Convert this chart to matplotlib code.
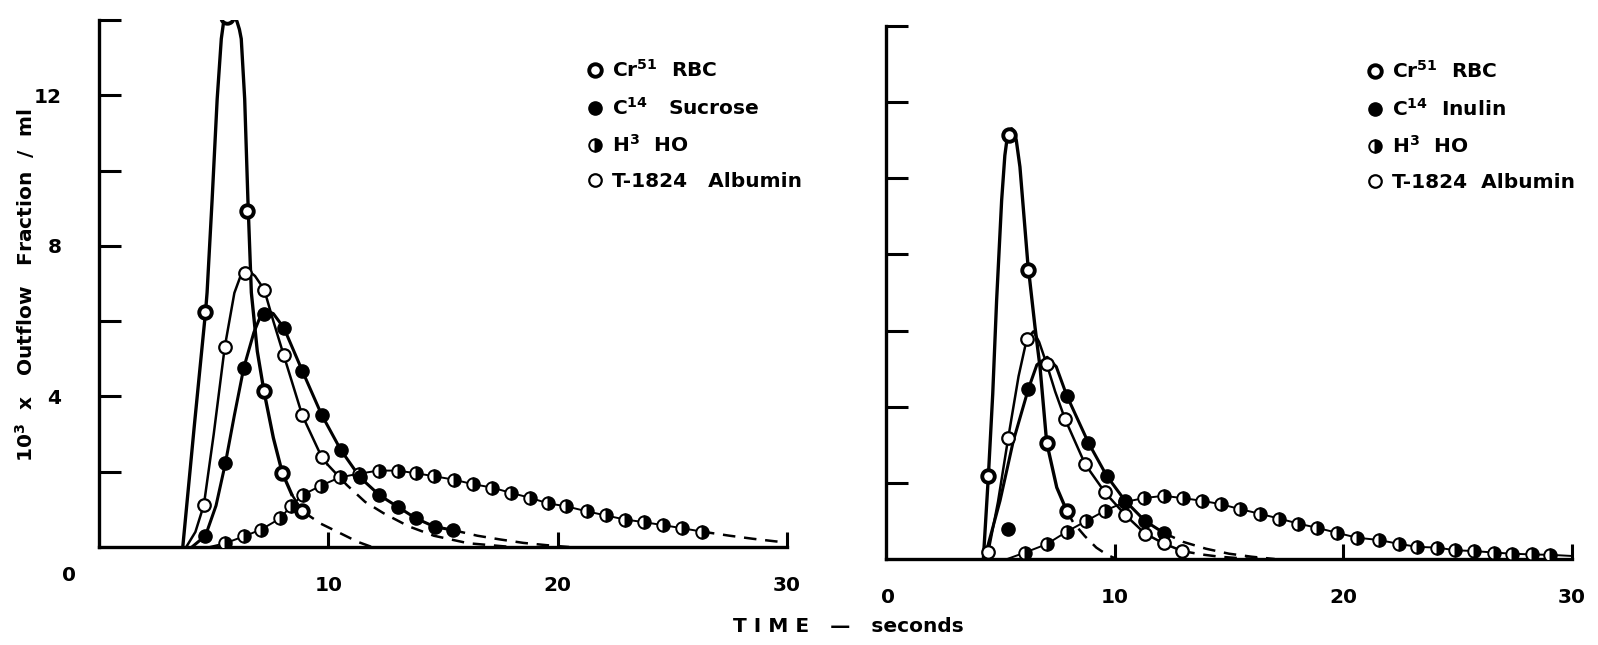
import matplotlib
matplotlib.use("Agg")
import matplotlib.pyplot as plt
from matplotlib.lines import Line2D

plt.rcParams['font.family'] = ['DejaVu Sans']
plt.rcParams['font.weight'] = 'bold'
plt.rcParams['mathtext.default'] = 'bf'

# ---- sucrose experiment (left) ----
# Cr51 RBC
suc_rbc_t = [4.64, 5.59, 6.43, 7.19, 7.99, 8.87]
suc_rbc_v = [6.23, 14.07, 8.92, 4.14, 1.97, 0.95]
suc_rbc_line_t = [3.65, 4.15, 4.64, 4.71, 4.93, 5.15, 5.33, 5.42, 5.52, 5.62, 5.72, 5.82,
                  5.92, 6.02, 6.12, 6.2, 6.35, 6.49, 6.64, 6.9, 7.19, 7.6, 7.99, 8.4]
suc_rbc_line_v = [0.0, 3.2, 6.23, 6.76, 9.23, 11.9, 13.5, 13.9, 14.1, 14.18, 14.2, 14.18,
                  14.1, 13.95, 13.75, 13.5, 11.9, 9.23, 6.76, 5.2, 4.14, 2.9, 1.97, 1.4]
suc_rbc_tail_t = [8.4, 8.87, 9.67, 10.54, 11.27, 11.9]
suc_rbc_tail_v = [1.4, 0.95, 0.62, 0.36, 0.14, 0.0]

# C14 sucrose
suc_c14_t = [4.64, 5.51, 6.31, 7.19, 8.06, 8.87, 9.7, 10.54, 11.38, 12.22, 13.02, 13.82, 14.63, 15.43]
suc_c14_v = [0.3, 2.23, 4.76, 6.18, 5.82, 4.67, 3.52, 2.58, 1.85, 1.38, 1.07, 0.76, 0.54, 0.45]
suc_c14_line_t = [4.05, 4.64, 5.1, 5.51, 5.9, 6.31, 6.75, 7.05, 7.3, 7.6, 8.06, 8.87, 9.7,
                  10.54, 11.38, 12.22, 13.02, 13.82, 14.63, 15.43]
suc_c14_line_v = [0.0, 0.3, 1.1, 2.23, 3.5, 4.76, 5.7, 6.15, 6.28, 6.2, 5.82, 4.67, 3.52,
                  2.58, 1.85, 1.38, 1.07, 0.76, 0.54, 0.45]
suc_c14_tail_t = [15.43, 16.5, 17.5, 18.5, 19.5, 20.5]
suc_c14_tail_v = [0.45, 0.3, 0.2, 0.11, 0.05, 0.0]

# H3 water
suc_h3_t = [5.5, 6.3, 7.05, 7.9, 8.35, 8.9, 9.67, 10.5, 11.34, 12.19, 13.02, 13.82, 14.62,
            15.47, 16.3, 17.14, 17.95, 18.78, 19.58, 20.38, 21.26, 22.09, 22.94, 23.77,
            24.61, 25.42, 26.29]
suc_h3_v = [0.1, 0.28, 0.46, 0.76, 1.08, 1.39, 1.63, 1.85, 1.95, 2.03, 2.03, 1.96, 1.88,
            1.79, 1.67, 1.58, 1.44, 1.31, 1.16, 1.08, 0.95, 0.84, 0.73, 0.66, 0.58, 0.5, 0.41]
suc_h3_tail_t = [26.29, 27.5, 28.5, 29.5, 30.0]
suc_h3_tail_v = [0.41, 0.3, 0.22, 0.15, 0.12]

# T-1824 albumin
suc_alb_t = [4.57, 5.48, 6.37, 7.2, 8.05, 8.86, 9.7]
suc_alb_v = [1.12, 5.31, 7.28, 6.84, 5.1, 3.5, 2.4]
suc_alb_line_t = [3.8, 4.2, 4.57, 5.0, 5.48, 5.9, 6.2, 6.5, 6.8, 7.2, 7.6, 8.05, 8.86, 9.7, 9.95]
suc_alb_line_v = [0.0, 0.4, 1.12, 3.0, 5.31, 6.75, 7.25, 7.35, 7.2, 6.84, 6.0, 5.1, 3.5, 2.4, 2.2]
suc_alb_tail_t = [9.95, 10.8, 11.6, 12.4, 13.5, 14.6, 16.1, 18.0]
suc_alb_tail_v = [2.2, 1.65, 1.2, 0.9, 0.55, 0.3, 0.1, 0.0]

# ---- inulin experiment (right) ----
inu_rbc_t = [4.48, 5.40, 6.2, 7.03, 7.91]
inu_rbc_v = [2.18, 11.13, 7.6, 3.06, 1.26]
inu_rbc_line_t = [4.26, 4.48, 4.67, 4.84, 5.06, 5.2, 5.3, 5.4, 5.5, 5.6, 5.7, 5.86, 6.2,
                  6.52, 6.74, 7.03, 7.47, 7.91]
inu_rbc_line_v = [0.0, 2.18, 4.33, 6.79, 9.42, 10.6, 11.05, 11.25, 11.3, 11.22, 11.0, 10.3,
                  7.8, 6.09, 5.03, 3.06, 1.88, 1.26]
inu_rbc_tail_t = [7.91, 8.2, 8.7, 9.2, 9.7, 10.1]
inu_rbc_tail_v = [1.26, 0.95, 0.6, 0.3, 0.1, 0.0]

inu_c14_t = [5.35, 6.23, 7.91, 8.85, 9.66, 10.46, 11.33, 12.14]
inu_c14_v = [0.78, 4.47, 4.29, 3.06, 2.18, 1.53, 1.0, 0.69]
inu_c14_line_t = [4.3, 4.99, 5.57, 6.23, 6.6, 7.05, 7.45, 7.91, 8.85, 9.66, 10.46, 11.33, 12.14]
inu_c14_line_v = [0.0, 1.53, 3.1, 4.47, 5.1, 5.3, 5.05, 4.29, 3.06, 2.18, 1.53, 1.0, 0.69]
inu_c14_tail_t = [12.14, 13.0, 14.0, 15.0, 16.0, 17.0]
inu_c14_tail_v = [0.69, 0.45, 0.27, 0.14, 0.06, 0.0]

inu_h3_t = [6.08, 7.03, 7.91, 8.76, 9.58, 10.46, 11.28, 12.14, 12.98, 13.82, 14.65, 15.49,
            16.34, 17.21, 18.04, 18.85, 19.72, 20.6, 21.55, 22.42, 23.22, 24.1, 24.9, 25.7,
            26.58, 27.38, 28.26, 29.06]
inu_h3_v = [0.17, 0.39, 0.72, 1.0, 1.27, 1.5, 1.6, 1.66, 1.6, 1.53, 1.44, 1.31, 1.19, 1.06,
            0.93, 0.82, 0.69, 0.56, 0.5, 0.4, 0.32, 0.3, 0.23, 0.21, 0.17, 0.14, 0.12, 0.11]
inu_h3_line_t = [5.3] + inu_h3_t + [30.0]
inu_h3_line_v = [0.0] + inu_h3_v + [0.08]

inu_alb_t = [4.48, 5.35, 6.16, 7.03, 7.83, 8.71, 9.58, 10.46, 11.33, 12.14, 12.96]
inu_alb_v = [0.19, 3.19, 5.78, 5.12, 3.68, 2.49, 1.75, 1.16, 0.67, 0.41, 0.21]
inu_alb_line_t = [4.35, 4.48, 4.9, 5.35, 5.8, 6.16, 6.45, 6.7, 7.03, 7.4, 7.83, 8.71, 9.58,
                  10.46, 11.33, 12.14, 12.96]
inu_alb_line_v = [0.0, 0.19, 1.5, 3.19, 4.8, 5.78, 5.98, 5.7, 5.12, 4.4, 3.68, 2.49, 1.75,
                  1.16, 0.67, 0.41, 0.21]
inu_alb_tail_t = [12.96, 13.8, 14.6, 15.5, 16.5]
inu_alb_tail_v = [0.21, 0.12, 0.06, 0.02, 0.0]

suc_labels = [r'Cr$^{51}$  RBC', r'C$^{14}$   Sucrose', r'H$^{3}$  HO', 'T-1824   Albumin']
inu_labels = [r'Cr$^{51}$  RBC', r'C$^{14}$  Inulin', r'H$^{3}$  HO', 'T-1824  Albumin']

# marker styles for the four tracers
rbc_mk = dict(marker='o', ms=9, mfc='white', mec='black', mew=2.8, ls='none')
c14_mk = dict(marker='o', ms=9.5, mfc='black', mec='black', mew=1, ls='none')
h3_mk = dict(marker='o', ms=9, fillstyle='right', mfc='black', mfcalt='white',
             mec='black', mew=1.4, ls='none')
alb_mk = dict(marker='o', ms=9, mfc='white', mec='black', mew=1.6, ls='none')
dash = dict(color='black', lw=1.8, ls=(0, (5, 3.5)))

FS = 14.5

fig = plt.figure(figsize=(15.98, 6.45), dpi=100)
ax1 = fig.add_axes([0.0620, 0.1519, 0.4305, 0.8171])
ax2 = fig.add_axes([0.5544, 0.1333, 0.4293, 0.8264])


def draw_panel(ax, rbc, c14, h3, alb):
    # rbc, c14, h3, alb: (points_t, points_v, line_t, line_v, tail_t, tail_v)
    for data, lw in ((rbc, 2.4), (c14, 2.2), (h3, 1.4), (alb, 1.8)):
        ax.plot(data[2], data[3], color='black', lw=lw, zorder=2)
        if data[4] is not None:
            ax.plot(data[4], data[5], zorder=2, **dash)
    ax.plot(h3[0], h3[1], zorder=3, **h3_mk)
    ax.plot(c14[0], c14[1], zorder=4, **c14_mk)
    ax.plot(alb[0], alb[1], zorder=5, **alb_mk)
    ax.plot(rbc[0], rbc[1], zorder=6, **rbc_mk)

    ax.set_xlim(0, 30)
    ax.set_ylim(0, 14)
    for s in ('top', 'right'):
        ax.spines[s].set_visible(False)
    for s in ('left', 'bottom'):
        ax.spines[s].set_linewidth(2.4)
    ax.set_yticks(range(2, 15, 2))
    ax.set_xticks([10, 20, 30])
    ax.tick_params(axis='y', direction='in', length=16, width=2.2, pad=27, labelsize=FS)
    ax.tick_params(axis='x', direction='in', length=11, width=2.2, pad=21, labelsize=FS)


draw_panel(ax1,
           (suc_rbc_t, suc_rbc_v, suc_rbc_line_t, suc_rbc_line_v, suc_rbc_tail_t, suc_rbc_tail_v),
           (suc_c14_t, suc_c14_v, suc_c14_line_t, suc_c14_line_v, suc_c14_tail_t, suc_c14_tail_v),
           (suc_h3_t, suc_h3_v, [4.8] + suc_h3_t, [0.0] + suc_h3_v, suc_h3_tail_t, suc_h3_tail_v),
           (suc_alb_t, suc_alb_v, suc_alb_line_t, suc_alb_line_v, suc_alb_tail_t, suc_alb_tail_v))
draw_panel(ax2,
           (inu_rbc_t, inu_rbc_v, inu_rbc_line_t, inu_rbc_line_v, inu_rbc_tail_t, inu_rbc_tail_v),
           (inu_c14_t, inu_c14_v, inu_c14_line_t, inu_c14_line_v, inu_c14_tail_t, inu_c14_tail_v),
           (inu_h3_t, inu_h3_v, inu_h3_line_t, inu_h3_line_v, None, None),
           (inu_alb_t, inu_alb_v, inu_alb_line_t, inu_alb_line_v, inu_alb_tail_t, inu_alb_tail_v))

ax1.set_yticklabels(['', '4', '', '8', '', '12', ''])
ax1.set_xticklabels(['10', '20', '30'])
ax2.set_yticklabels([''] * 7)
ax2.set_xticklabels(['10', '20', '30'])
ax1.text(-1.3, -0.75, '0', ha='center', va='center', fontsize=FS, fontweight='bold')
ax2.text(0.1, -1.0, '0', ha='center', va='center', fontsize=FS, fontweight='bold')

handles = [Line2D([], [], **rbc_mk), Line2D([], [], **c14_mk),
           Line2D([], [], **h3_mk), Line2D([], [], **alb_mk)]
for ax, labels, anchor in ((ax1, suc_labels, (0.70, 0.941)), (ax2, inu_labels, (0.692, 0.951))):
    ax.legend(handles, labels, loc='upper left', bbox_to_anchor=anchor, frameon=False,
              handlelength=0.6, handletextpad=0.55, labelspacing=0.78, fontsize=FS,
              borderaxespad=0)

fig.text(0.0155, 0.558, r'10$^{3}$  x   Outflow   Fraction  /  ml', rotation=90,
         ha='center', va='center', fontsize=14.5, fontweight='bold')
fig.text(0.531, 0.028, 'T I M E   —   seconds', ha='center', va='center',
         fontsize=FS, fontweight='bold')

fig.savefig('out.png', dpi=100)
